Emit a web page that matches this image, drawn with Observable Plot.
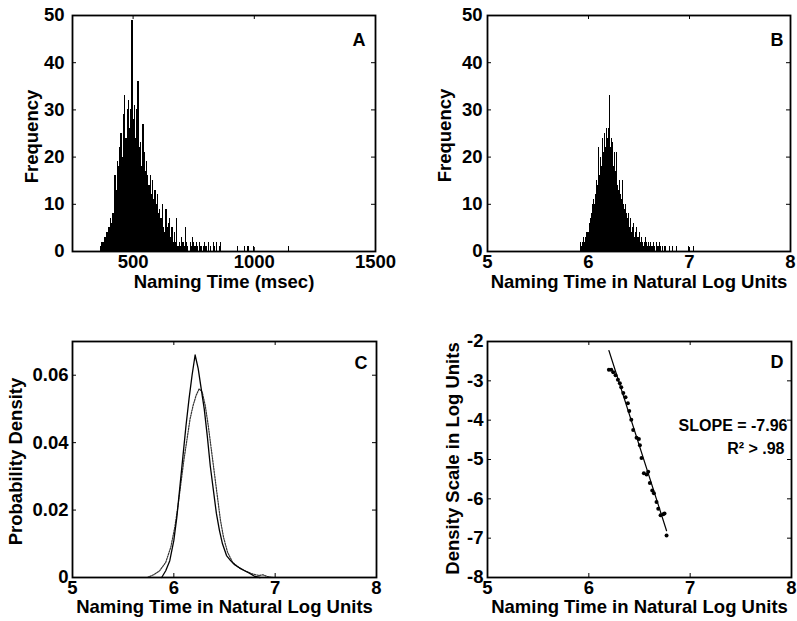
<!DOCTYPE html>
<html><head><meta charset="utf-8">
<script src="https://cdn.jsdelivr.net/npm/d3@7"></script>
<script src="https://cdn.jsdelivr.net/npm/@observablehq/plot@0.6"></script>
<style>
body{margin:0;background:#fff;}
#wrap{position:relative;width:797px;height:621px;overflow:hidden;background:#fff;}
.panel{position:absolute;}
</style></head><body><div id="wrap"></div>
<script>
// ---------- Panel A: naming time histogram (msec), 5-ms bins ----------
const msA = [365,370,375,380,385,390,395,400,405,410,
  415,420,425,430,435,440,445,450,455,460,
  465,470,475,480,485,490,495,500,505,510,
  515,520,525,530,535,540,545,550,555,560,
  565,570,575,580,585,590,595,600,605,610,
  615,620,625,630,635,640,645,650,655,660,
  665,670,675,680,685,690,695,700,705,710,
  715,720,725,
  735,740,745,750,755,760,765,775,780,790,795,800,810,820,830,835,845,855,860,
  930,960,970,975,995,1140];
const freqA = [1,2,2,3,3,4,4,5,7,6,
  8,8,16,13,19,18,22,25,20,29,
  33,24,30,32,26,30,49,28,31,24,
  30,36,22,23,18,27,21,17,19,16,
  14,16,12,15,11,13,10,12,8,9,
  7,10,5,4,9,5,6,7,3,5,
  2,4,2,7,1,2,1,3,2,1,
  5,2,1,
  2,1,3,2,1,2,1,2,1,1,2,1,2,1,2,1,2,1,2,
  1,1,1,1,1,1];
const binWidthA = 5;
const xTicksA = [500, 1000, 1500];
const yTicksA = [0, 10, 20, 30, 40, 50];

// ---------- Panel B: log naming time histogram, 0.01 bins ----------
const logB = [5.92,5.93,5.94,5.95,5.96,5.97,5.98,5.99,6.00,6.01,
  6.02,6.03,6.04,6.05,6.06,6.07,6.08,6.09,6.10,6.11,
  6.12,6.13,6.14,6.15,6.16,6.17,6.18,6.19,6.20,6.21,
  6.22,6.23,6.24,6.25,6.26,6.27,6.28,6.29,6.30,6.31,
  6.32,6.33,6.34,6.35,6.36,6.37,6.38,6.39,6.40,6.41,
  6.42,6.43,6.44,6.45,6.46,6.47,6.48,6.49,6.50,6.51,
  6.52,6.53,6.54,6.55,6.56,6.57,6.58,6.59,6.60,6.61,
  6.62,6.63,6.64,6.65,6.66,6.67,6.68,6.69,6.70,6.71,
  6.72,6.73,6.74,6.75,6.76,
  6.80,6.83,6.87,6.99,7.04];
const freqB = [2,1,2,3,2,3,4,4,4,6,
  7,8,10,11,10,12,15,14,22,16,
  20,18,24,21,25,22,26,24,26,33,
  22,24,23,18,21,17,21,14,13,15,
  12,11,15,10,9,10,8,7,8,5,
  7,4,5,6,3,4,5,3,4,2,
  3,2,1,2,3,2,1,2,1,2,
  1,1,2,1,0,2,1,1,2,1,
  0,1,0,1,1,
  1,1,1,1,1];
const binWidthB = 0.01;
const logTicks = [5, 6, 7, 8];

// ---------- Panel C: probability density curves ----------
const xSolidC = [5.88,5.92,5.96,6.00,6.03,6.06,6.09,6.12,6.15,6.18,6.21,6.24,6.27,6.30,6.33,6.36,6.39,6.42,6.45,6.48,6.52,6.56,6.60,6.65,6.70,6.75,6.80,6.85];
const ySolidC = [0,0.002,0.005,0.011,0.018,0.027,0.036,0.045,0.053,0.060,0.066,0.062,0.056,0.050,0.042,0.033,0.026,0.019,0.014,0.010,0.0065,0.005,0.0038,0.0028,0.002,0.0012,0.0003,0];
const xDashC = [5.74,5.80,5.86,5.92,5.97,6.01,6.04,6.07,6.10,6.13,6.16,6.19,6.22,6.25,6.28,6.31,6.34,6.37,6.40,6.43,6.46,6.49,6.53,6.58,6.64,6.70,6.78,6.84,6.88,6.92,6.98];
const yDashC = [0,0.0008,0.002,0.0045,0.009,0.015,0.021,0.028,0.035,0.041,0.047,0.051,0.054,0.056,0.055,0.051,0.045,0.038,0.031,0.024,0.017,0.012,0.0075,0.0045,0.003,0.002,0.001,0.0006,0.0008,0.0003,0];
const yTicksC = [0, 0.02, 0.04, 0.06];

// ---------- Panel D: log density vs log time ----------
const xD = [6.198,6.221,6.241,6.264,6.287,6.306,6.32,6.34,6.362,6.385,6.399,6.419,6.438,6.471,6.494,6.504,6.52,6.543,6.57,6.586,6.602,6.626,6.642,6.668,6.685,6.708,6.734,6.747,6.767];
const yD = [-2.72,-2.72,-2.78,-2.86,-2.97,-3.06,-3.16,-3.31,-3.42,-3.57,-3.77,-3.99,-4.25,-4.45,-4.48,-4.64,-4.96,-5.35,-5.38,-5.31,-5.60,-5.79,-5.86,-6.08,-6.25,-6.42,-6.39,-6.37,-6.93];
const fitX = [6.198, 6.767];
const fitY = [-2.23, -6.81];
const yTicksD = [-8, -7, -6, -5, -4, -3, -2];
const slopeText = ["SLOPE = -7.96", "R\u00B2 > .98"];

// ---------- drawing ----------
const FONT = "'Liberation Sans', Arial, Helvetica, sans-serif";
const histA = msA.map((x, i) => ({x1: x, x2: x + binWidthA, n: freqA[i]}));
const histB = logB.map((x, i) => ({x1: x, x2: x + binWidthB, n: freqB[i]}));
const solidC = xSolidC.map((x, i) => ({x, y: ySolidC[i]}));
const dashC = xDashC.map((x, i) => ({x, y: yDashC[i]}));
const ptsD = xD.map((x, i) => ({x, y: yD[i]}));
const lineD = fitX.map((x, i) => ({x, y: fitY[i]}));

function panel(c) {
  const iw = c.width - c.ml - c.mr, ih = c.height - c.mt - c.mb;
  const svg = Plot.plot({
    width: c.width, height: c.height,
    marginLeft: c.ml, marginRight: c.mr, marginTop: c.mt, marginBottom: c.mb,
    style: {fontFamily: FONT, fontWeight: "bold", fontSize: "18.5px", background: "transparent", overflow: "visible", color: "black"},
    x: {domain: c.xDomain},
    y: {domain: c.yDomain},
    marks: [
      ...c.marks,
      Plot.tickX(c.xTicks, {x: d => d, insetTop: ih - 4, stroke: "black", strokeWidth: 1}),
      Plot.tickX(c.xTicks, {x: d => d, insetBottom: ih - 4, stroke: "black", strokeWidth: 1}),
      Plot.tickY(c.yTicks, {y: d => d, insetRight: iw - 4, stroke: "black", strokeWidth: 1}),
      Plot.tickY(c.yTicks, {y: d => d, insetLeft: iw - 4, stroke: "black", strokeWidth: 1}),
      Plot.frame({stroke: "black", strokeWidth: 1.8}),
      Plot.axisX({ticks: c.xTicks, tickSize: 0, tickPadding: c.xPad, tickFormat: c.xFmt || (d => String(d)), label: null, fill: "black"}),
      Plot.axisY({ticks: c.yTicks, tickSize: 0, tickPadding: c.yPad, tickFormat: c.yFmt || (d => String(d)), label: null, fill: "black"}),
      Plot.text([c.xLabel], {text: d => d, frameAnchor: "bottom", textAnchor: "middle", dy: c.xLabelDy, lineAnchor: "middle", fontSize: 18.5, fill: "black"}),
      Plot.text([c.yLabel], {text: d => d, frameAnchor: "left", textAnchor: "middle", rotate: -90, dx: c.yLabelDx, dy: c.yLabelDy, lineAnchor: "middle", fontSize: 18.5, fill: "black"}),
      Plot.text([c.letter], {text: d => d, frameAnchor: "top-right", textAnchor: "end", dx: c.letterDx, dy: c.letterDy, lineAnchor: "middle", fontSize: 18, fill: "black"}),
      ...(c.extra || [])
    ]
  });
  const div = document.createElement("div");
  div.className = "panel";
  div.style.left = c.left + "px";
  div.style.top = c.top + "px";
  div.appendChild(svg);
  document.getElementById("wrap").appendChild(div);
}

panel({
  left: 0, top: 0, width: 400, height: 310, ml: 72, mr: 25, mt: 15, mb: 59,
  xDomain: [250, 1500], yDomain: [0, 50], xTicks: xTicksA, yTicks: yTicksA,
  xPad: 3, yPad: 8, xLabel: "Naming Time (msec)", yLabel: "Frequency",
  xLabelDy: 31, yLabelDx: -40, yLabelDy: 3, letter: "A", letterDx: -10, letterDy: 25,
  marks: [Plot.rectY(histA, {x1: "x1", x2: "x2", y: "n", fill: "black", shapeRendering: "crispEdges"})]
});

panel({
  left: 400, top: 0, width: 397, height: 310, ml: 87, mr: 7, mt: 15, mb: 59,
  xDomain: [5, 8], yDomain: [0, 50], xTicks: logTicks, yTicks: yTicksA,
  xPad: 3, yPad: 5, xLabel: "Naming Time in Natural Log Units", yLabel: "Frequency",
  xLabelDy: 31, yLabelDx: -42, yLabelDy: 2, letter: "B", letterDx: -7, letterDy: 25,
  marks: [Plot.rectY(histB, {x1: "x1", x2: "x2", y: "n", fill: "black", shapeRendering: "crispEdges"})]
});

panel({
  left: 0, top: 300, width: 400, height: 321, ml: 72, mr: 24, mt: 41, mb: 44,
  xDomain: [5, 8], yDomain: [0, 0.07], xTicks: logTicks, yTicks: yTicksC,
  yFmt: d => d === 0 ? "0" : d.toFixed(2),
  xPad: 3, yPad: 4, xLabel: "Naming Time in Natural Log Units", yLabel: "Probability Density",
  xLabelDy: 30, yLabelDx: -56, yLabelDy: 2, letter: "C", letterDx: -9, letterDy: 22,
  marks: [
    Plot.line(dashC, {x: "x", y: "y", stroke: "#333", strokeWidth: 1.2, strokeDasharray: "1.5,1.2"}),
    Plot.line(solidC, {x: "x", y: "y", stroke: "black", strokeWidth: 1.3})
  ]
});

panel({
  left: 400, top: 300, width: 397, height: 321, ml: 87, mr: 6, mt: 41, mb: 44,
  xDomain: [5, 8], yDomain: [-8, -2], xTicks: logTicks, yTicks: yTicksD,
  xPad: 3, yPad: 4, xLabel: "Naming Time in Natural Log Units", yLabel: "Density Scale in Log Units",
  xLabelDy: 30, yLabelDx: -34, yLabelDy: -1, letter: "D", letterDx: -8, letterDy: 21,
  marks: [
    Plot.line(lineD, {x: "x", y: "y", stroke: "black", strokeWidth: 1.2}),
    Plot.dot(ptsD, {x: "x", y: "y", r: 2, fill: "black", stroke: "none"})
  ],
  extra: [
    Plot.text([slopeText[0]], {text: d => d, frameAnchor: "top-right", textAnchor: "end", dx: -4, dy: 84, lineAnchor: "middle", fontSize: 16, fill: "black"}),
    Plot.text([slopeText[1]], {text: d => d, frameAnchor: "top-right", textAnchor: "end", dx: -7, dy: 107, lineAnchor: "middle", fontSize: 16, fill: "black"})
  ]
});
</script>
</body></html>
